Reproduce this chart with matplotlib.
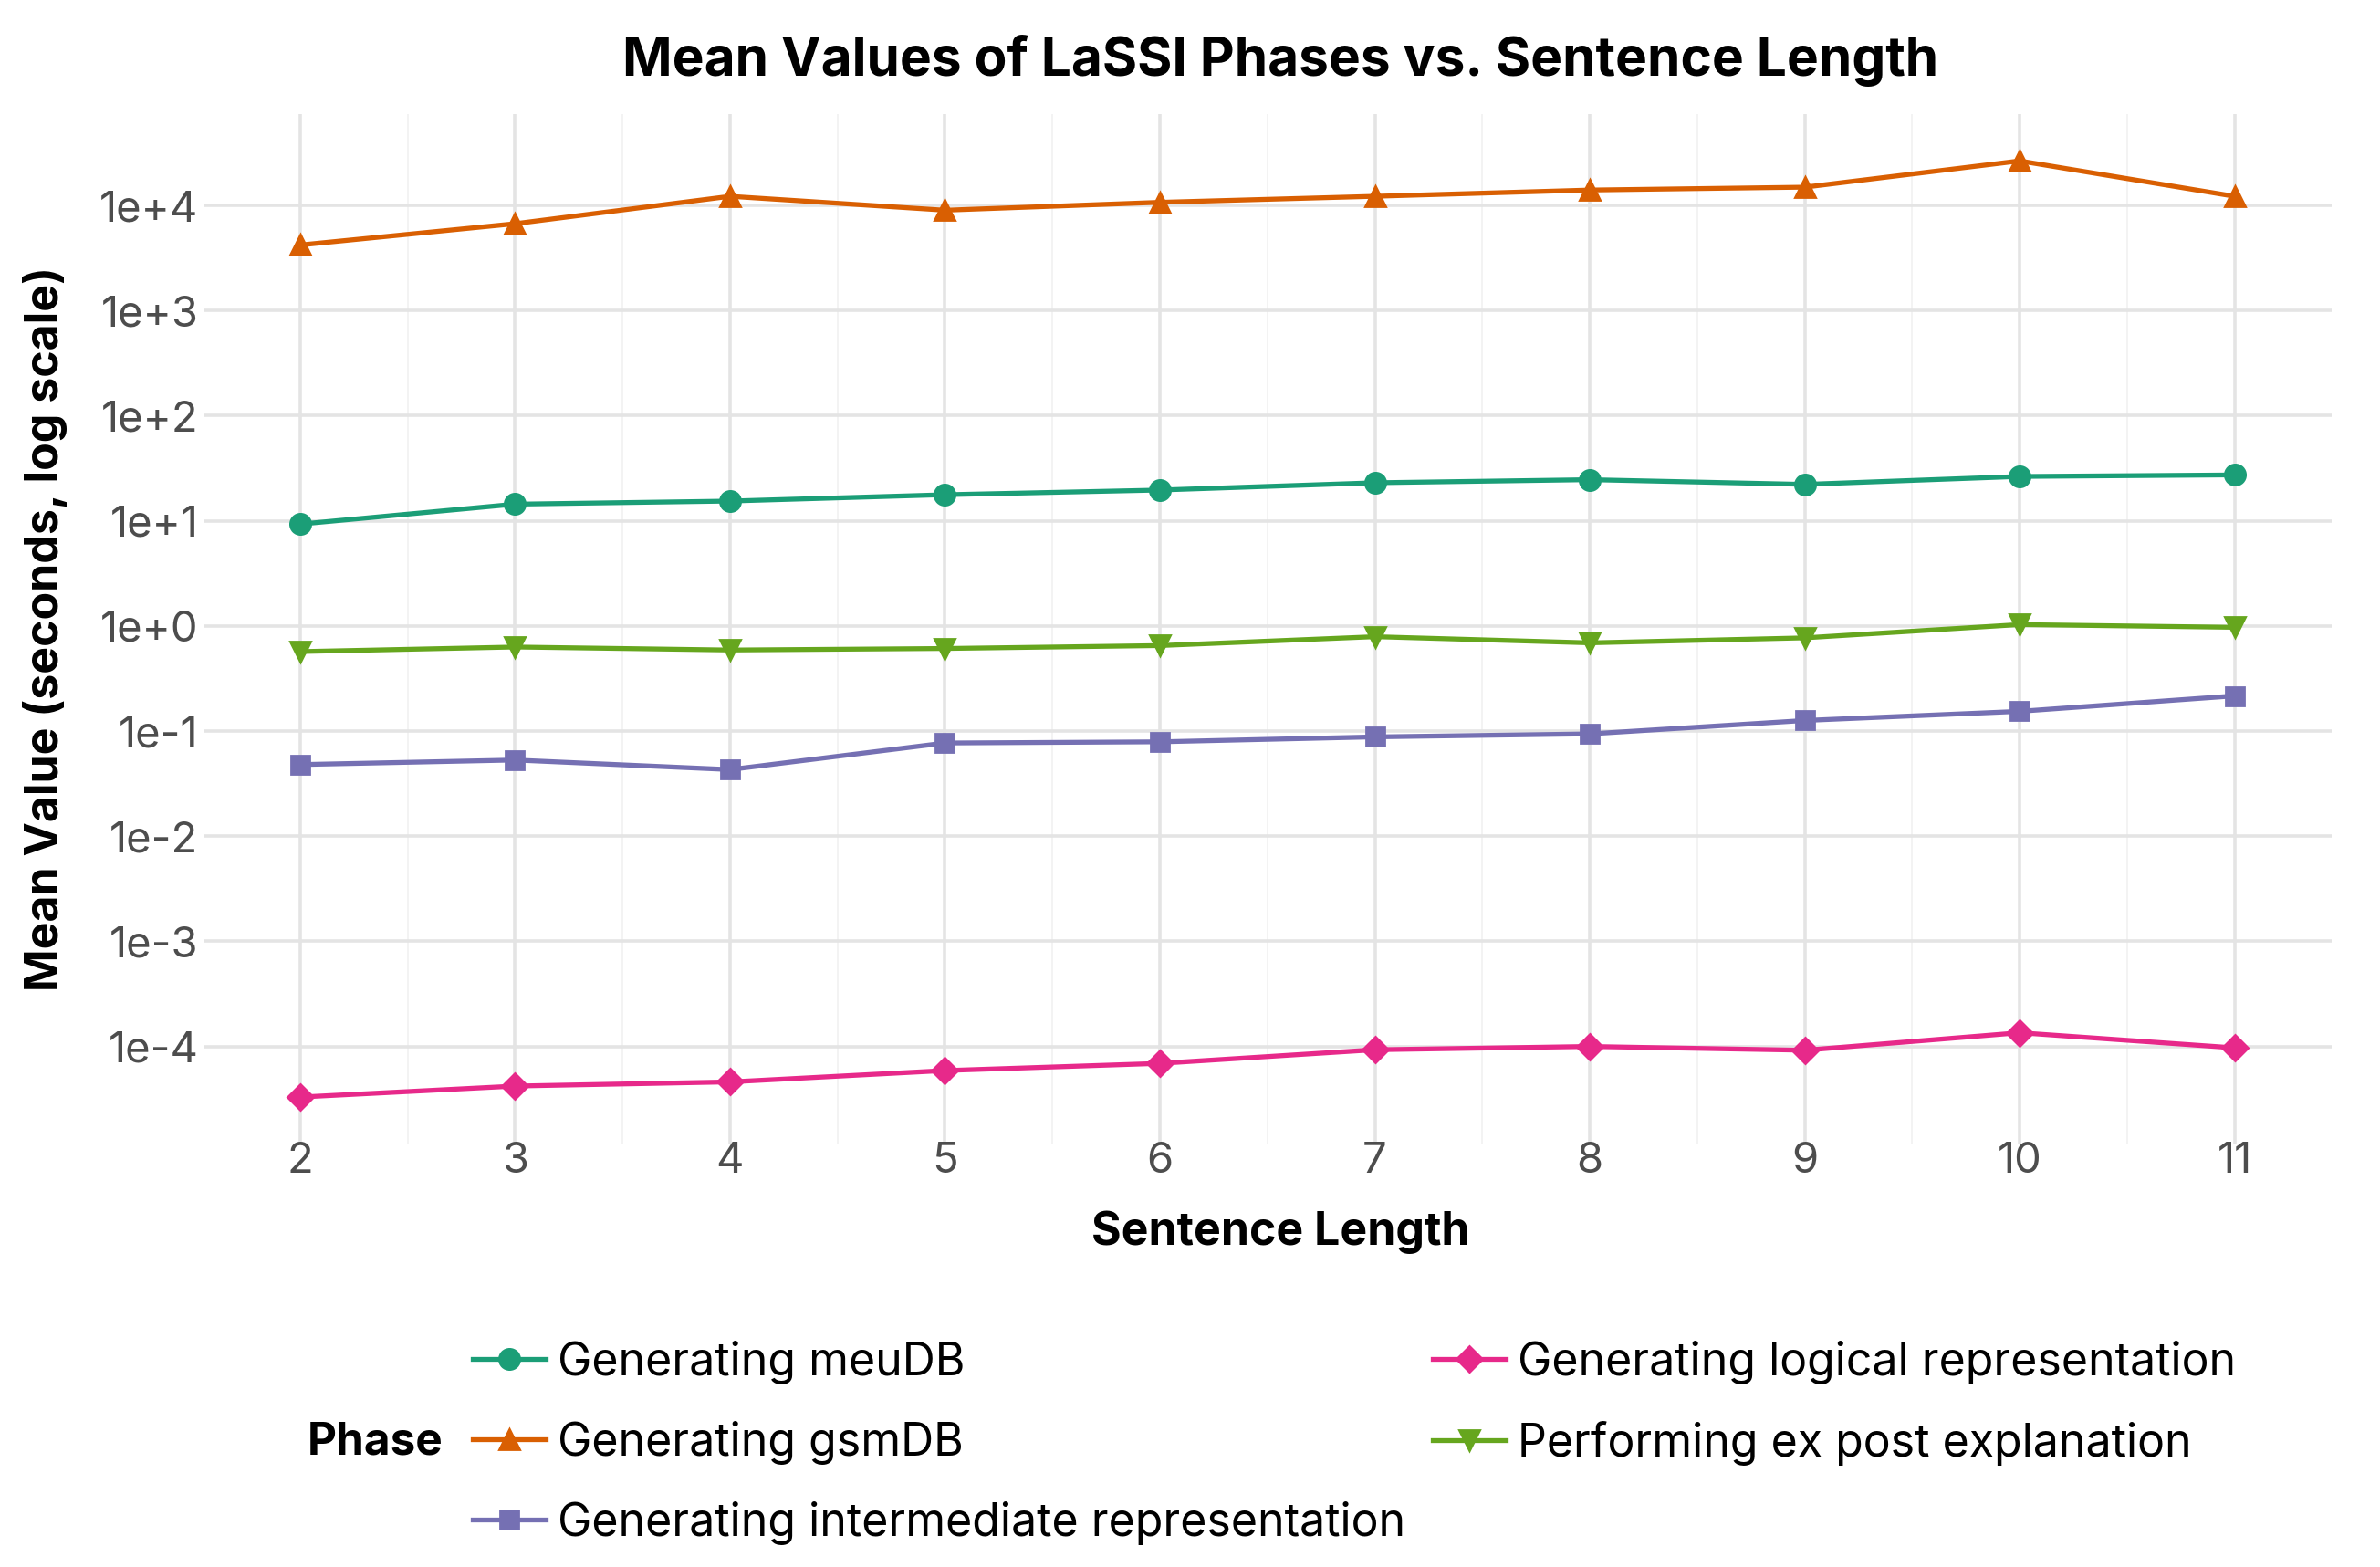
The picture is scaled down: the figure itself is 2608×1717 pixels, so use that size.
import matplotlib.pyplot as plt
from matplotlib.ticker import FixedLocator, FixedFormatter, NullLocator

plt.rcParams['font.family'] = ['Inter', 'DejaVu Sans']

# sentence lengths on the x axis
lengths = [2, 3, 4, 5, 6, 7, 8, 9, 10, 11]

# mean values per phase (seconds)
meudb = [9.3, 14.4, 15.4, 17.7, 19.6, 23.0, 24.6, 22.2, 26.4, 27.3]
gsmdb = [4200, 6700, 12200, 9000, 10700, 12200, 14000, 14900, 26500, 12200]
intermediate = [0.048, 0.053, 0.043, 0.077, 0.079, 0.088, 0.094, 0.126, 0.154, 0.216]
logical = [3.3e-5, 4.2e-5, 4.6e-5, 5.9e-5, 6.9e-5, 9.3e-5, 1.0e-4, 9.2e-5, 1.35e-4, 9.7e-5]
expost = [0.57, 0.63, 0.59, 0.61, 0.65, 0.79, 0.69, 0.77, 1.03, 0.97]

phase_names = ["Generating meuDB", "Generating gsmDB",
               "Generating intermediate representation",
               "Generating logical representation",
               "Performing ex post explanation"]
phase_values = [meudb, gsmdb, intermediate, logical, expost]
phase_colors = ["#1B9E77", "#D95F02", "#7570B3", "#E7298A", "#66A61E"]
phase_markers = ["o", "^", "s", "D", "v"]
marker_sizes = [8, 8, 7.5, 7, 8]

y_ticks = [1e-4, 1e-3, 1e-2, 1e-1, 1e0, 1e1, 1e2, 1e3, 1e4]
y_labels = ["1e-4", "1e-3", "1e-2", "1e-1", "1e+0", "1e+1", "1e+2", "1e+3", "1e+4"]

fig = plt.figure(figsize=(13.04, 8.585), dpi=200)
ax = fig.add_axes([0.0855, 0.2698, 0.894, 0.6575])

for name, vals, col, mk, ms in zip(phase_names, phase_values, phase_colors,
                                   phase_markers, marker_sizes):
    ax.plot(lengths, vals, color=col, marker=mk, markersize=ms, linewidth=1.9,
            label=name, zorder=3)

ax.set_yscale("log")
ax.set_xlim(1.55, 11.45)
ax.set_ylim(10 ** -4.93, 10 ** 4.87)
ax.yaxis.set_major_locator(FixedLocator(y_ticks))
ax.yaxis.set_major_formatter(FixedFormatter(y_labels))
ax.yaxis.set_minor_locator(NullLocator())
ax.set_xticks(lengths)
ax.set_xticks([x + 0.5 for x in lengths[:-1]], minor=True)

ax.grid(True, which="major", color="#e4e4e4", linewidth=1.3)
ax.grid(True, which="minor", axis="x", color="#f3f3f3", linewidth=0.7)
for s in ax.spines.values():
    s.set_visible(False)
ax.tick_params(which="both", length=0)
ax.tick_params(axis="both", labelsize=17, labelcolor="#4d4d4d")
ax.tick_params(axis="y", pad=2)
ax.tick_params(axis="x", pad=-1)

fig.text(0.538, 0.2134, "Sentence Length", fontsize=18, fontweight="bold",
         ha="center", va="center")
fig.text(0.019, 0.5987, "Mean Value (seconds, log scale)", fontsize=18,
         fontweight="bold", rotation=90, ha="center", va="center")
fig.text(0.538, 0.961, "Mean Values of LaSSI Phases vs. Sentence Length", fontsize=21.1,
         fontweight="bold", ha="center", va="center")

fig.text(0.129, 0.0793, "Phase", fontsize=17.8, fontweight="bold", va="center")
fig.legend(loc="center left", bbox_to_anchor=(0.1988, 0.0793), ncol=2, frameon=False,
           fontsize=18, handlelength=1.6, columnspacing=0.6, labelspacing=0.8,
           handletextpad=0.25, borderpad=0, borderaxespad=0)

fig.savefig("out.png", dpi=200, facecolor="white")
